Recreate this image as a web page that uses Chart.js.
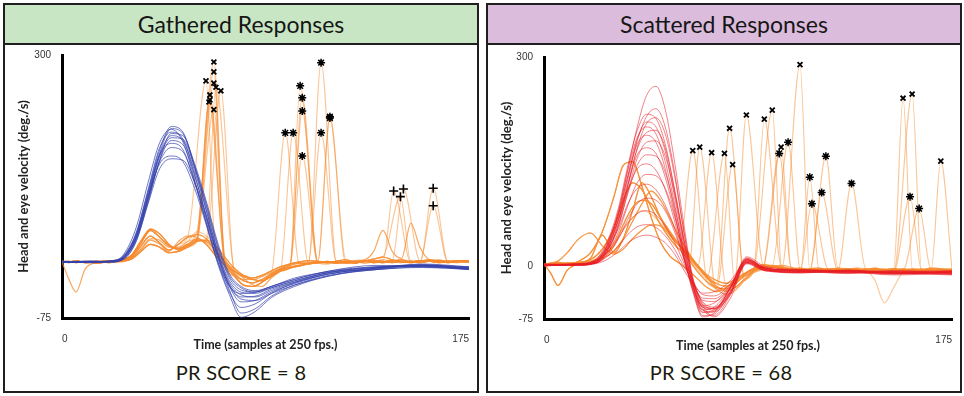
<!DOCTYPE html>
<html>
<head>
<meta charset="utf-8">
<script src="https://cdn.jsdelivr.net/npm/chart.js@4.4.1/dist/chart.umd.min.js"></script>
<style>
  body{margin:0;width:964px;height:396px;background:#fff;position:relative;overflow:hidden;font-family:Lato,"DejaVu Sans",sans-serif}
  .panel{position:absolute;top:3px;height:390px;box-sizing:border-box;border:2px solid #1f1f1f;background:#fff}
  .head{height:38px;border-bottom:2px solid #1f1f1f;text-align:center;font-size:23px;line-height:38px;color:#161616}
  .score{position:absolute;top:360px;height:24px;line-height:24px;text-align:center;font-size:20px;color:#1b1b0c;letter-spacing:.3px}
  canvas{position:absolute}
</style>
</head>
<body>
<div class="panel" style="left:3px;width:476px"><div class="head" style="background:#c8e6c4">Gathered Responses</div></div>
<div class="panel" style="left:486px;width:476px"><div class="head" style="background:#dbbcdc">Scattered Responses</div></div>
<canvas id="gathered" width="471" height="312" style="left:5px;top:46px"></canvas>
<canvas id="scattered" width="471" height="313" style="left:488px;top:46px"></canvas>
<div class="score" style="left:3px;width:476px">PR SCORE = 8</div>
<div class="score" style="left:640px;width:162px">PR SCORE = 68</div>
<script>
// ---- axes ----
const xTicks = [0, 175];
const gatheredYTicks = [-75, 300];
const scatteredYTicks = [-75, 0, 300];

// ---- head (blue) traces, gathered panel ----
const blueT = [0,12,22,27,32,37,42,47,52,57,62,67,72,77,83,90,100,115,135,155,175];
const blue1  = [5,4,6,14,45,105,165,198,190,140,80,20,-22,-38,-40,-32,-22,-10,-3,-1,-4];
const blue2  = [4,6,5,12,40,98,160,195,188,142,85,25,-18,-35,-38,-30,-20,-8,0,-2,-6];
const blue3  = [6,5,7,16,48,108,168,190,180,130,70,12,-28,-45,-44,-34,-24,-12,-4,2,-2];
const blue4  = [5,5,6,10,35,90,150,188,185,145,92,32,-12,-30,-36,-30,-18,-9,-2,0,-5];
const blue5  = [5,4,6,13,42,100,158,185,178,135,78,18,-25,-42,-45,-36,-24,-10,-6,-2,-3];
const blue6  = [4,5,5,11,38,92,150,178,172,128,72,15,-30,-52,-50,-38,-26,-12,-5,1,-4];
const blue7  = [5,6,6,15,46,104,158,174,165,118,62,5,-38,-60,-55,-40,-25,-12,-4,-1,-6];
const blue8  = [6,4,5,12,40,95,148,168,162,120,66,10,-35,-68,-62,-44,-28,-14,-6,0,-2];
const blue9  = [5,5,7,14,44,98,145,156,148,110,58,2,-42,-74,-66,-46,-30,-15,-6,-3,-5];
const blue10 = [4,5,6,10,36,88,138,152,150,118,70,14,-28,-48,-50,-40,-28,-15,-4,1,-3];
const blue11 = [5,6,5,18,55,118,175,194,176,122,60,5,-30,-40,-38,-30,-20,-8,-2,0,-4];
const blue12 = [5,5,6,12,40,96,155,182,180,140,88,28,-15,-32,-38,-32,-22,-10,-3,-1,-5];

// ---- head (red) traces, scattered panel ----
const redT = [0,14,22,27,32,36,40,44,48,52,56,60,64,68,73,80,87,95,110,130,150,175];
const red1  = [2,3,8,30,80,140,200,245,258,225,150,60,-20,-60,-70,-40,10,-5,-8,-6,-10,-8];
const red2  = [3,2,6,25,70,125,180,215,226,200,135,50,-25,-62,-65,-38,8,-3,-6,-8,-9,-7];
const red3  = [1,4,10,35,85,145,195,218,212,175,110,35,-30,-58,-60,-30,12,-2,-5,-7,-12,-9];
const red4  = [2,2,5,22,62,115,170,205,213,190,130,50,-18,-55,-72,-45,5,-6,-9,-5,-8,-11];
const red5  = [3,3,7,28,75,130,182,207,200,165,100,30,-28,-65,-62,-30,14,0,-4,-6,-10,-6];
const red6  = [2,4,9,32,80,138,185,200,190,150,90,20,-35,-70,-68,-35,8,-4,-7,-9,-7,-9];
const red7  = [1,3,6,24,66,118,168,192,195,170,110,40,-22,-50,-58,-36,6,-5,-8,-6,-9,-12];
const red8  = [3,2,8,30,76,130,175,188,178,140,80,15,-38,-72,-66,-32,10,-2,-6,-10,-8,-7];
const red9  = [2,3,5,20,58,108,155,178,180,158,105,38,-20,-52,-60,-40,4,-6,-5,-7,-11,-8];
const red10 = [4,3,7,26,68,118,160,170,162,128,75,15,-35,-66,-64,-30,12,-3,-7,-8,-6,-10];
const red11 = [2,2,6,22,60,105,145,160,158,135,85,25,-28,-58,-62,-38,6,-4,-9,-6,-10,-7];
const red12 = [3,4,8,28,68,110,140,147,138,110,65,12,-32,-62,-58,-30,10,-2,-5,-9,-8,-9];
const red13 = [1,3,5,18,50,88,120,132,130,112,72,20,-25,-55,-60,-36,5,-6,-8,-7,-9,-11];
const red14 = [2,3,7,24,55,90,112,118,110,88,55,10,-30,-56,-52,-28,9,-3,-6,-8,-7,-6];
const red15 = [3,2,5,16,40,68,90,98,95,80,50,12,-22,-48,-50,-30,7,-4,-7,-5,-9,-8];
const red16 = [2,4,6,20,42,62,76,80,74,58,35,5,-25,-45,-46,-26,10,-2,-6,-8,-6,-9];
const red17 = [3,3,5,14,30,46,57,60,56,44,25,0,-22,-40,-42,-24,6,-5,-8,-6,-10,-7];
const red18 = [2,2,4,10,22,34,42,45,42,34,18,-5,-25,-38,-36,-20,8,-3,-5,-7,-8,-10];

// ---- eye (orange) traces: background shapes + the saccade peak of each trace ----
const orangeT = [0,3,6,10,15,20,25,30,34,38,42,46,50,54,58,62,66,70,74,78,82,86,90,94,98,102,106,110,114,118,122,126,130,134,138,142,146,150,154,158,162,166,170,175];
const gatheredEyeA = [5,6,4,5,6,5,7,12,28,42,32,22,30,40,44,38,20,5,-12,-22,-25,-20,-12,-5,0,3,2,4,5,3,6,4,5,7,6,4,6,5,7,6,5,6,5,6];
const gatheredEyeB = [5,-20,-38,-5,4,6,5,10,24,38,36,26,26,34,48,42,26,8,-8,-18,-28,-30,-18,-8,-2,1,4,3,2,5,4,6,3,5,8,5,4,7,5,6,8,5,4,5];
const gatheredEyeC = [4,5,6,4,5,7,6,14,32,50,40,28,24,30,38,30,14,0,-15,-28,-30,-24,-14,-6,-3,0,3,5,4,6,5,3,6,4,5,7,5,4,6,8,6,4,6,7];
const gatheredEyeD = [6,5,5,6,4,5,8,11,22,36,30,20,34,42,40,32,18,4,-10,-20,-20,-16,-10,-4,2,4,5,6,5,4,5,7,8,20,50,20,10,60,25,8,6,7,6,5];
const gatheredEyeE = [5,4,6,5,3,6,8,15,35,52,45,30,22,28,36,34,22,6,-8,-16,-20,-22,-16,-8,-4,-1,2,4,6,4,3,5,7,5,4,6,8,5,4,6,7,5,6,5];
const gatheredEyeF = [6,5,7,4,6,4,6,9,20,30,26,18,20,26,34,36,28,12,-4,-14,-18,-14,-8,-2,2,5,7,6,4,6,8,5,6,9,12,8,6,5,7,6,4,5,7,6];
const scatteredEyeA = [3,5,2,4,6,10,25,55,95,120,110,85,60,40,25,10,-8,-22,-30,-32,-25,-12,-4,0,2,-2,-3,-5,-4,-6,-3,-5,-4,-6,-5,-3,-6,-4,-5,-7,-4,-5,-6,-5];
const scatteredEyeB = [4,-10,-27,-5,5,12,45,20,40,80,120,100,70,45,30,15,0,-15,-28,-35,-30,-18,-6,-2,0,-4,-6,-3,-5,-4,-7,-5,-3,-5,-6,-4,-5,-3,-6,-5,-4,-6,-5,-4];
const scatteredEyeC = [2,4,5,3,8,20,50,100,145,150,115,70,35,15,5,-5,-18,-30,-36,-30,-20,-10,-2,3,1,-2,-4,-6,-3,-5,-6,-4,-5,-3,-7,-5,-4,-6,-4,-5,-7,-6,-4,-5];
const scatteredEyeD = [3,3,4,6,5,8,18,35,55,70,80,75,62,48,30,12,-5,-18,-25,-28,-22,-12,-4,0,-1,-3,-2,-4,-5,-3,-4,-6,-5,-4,-6,-20,-52,-30,-8,-5,-6,-4,-5,-6];
const scatteredEyeE = [2,3,6,4,3,6,15,30,60,85,95,90,70,50,32,18,2,-12,-20,-24,-18,-10,-3,1,-1,-2,-5,-4,-6,-5,-4,-3,-6,-5,-4,-6,-5,-7,-5,-4,-6,-5,-7,-4];
const scatteredEyeF = [3,4,3,5,6,8,12,22,40,65,90,108,95,70,42,20,0,-14,-24,-28,-24,-14,-6,-2,1,0,-3,-2,-5,-3,-4,-2,-3,-5,-4,-2,-4,-3,-5,-3,-4,-2,-3,-4];
const scatteredEyeG = [2,5,8,20,40,48,30,18,25,40,52,60,58,45,30,14,-2,-16,-32,-40,-34,-20,-8,-3,0,2,-1,-4,-3,-2,-5,-6,-4,-2,-3,-5,-6,-4,-3,-5,-6,-3,-4,-5];

// peaks [time, velocity] and which background each trace uses
const gatheredCross = [[61.9,263],[65.3,290],[65.3,276],[65.3,260],[66.2,254],[63.6,243],[63.2,233],[63.6,236],[65.3,222],[68.3,249]];
const gatheredCrossBg = [0,1,2,4,5,0,4,2,5,3];
const gatheredStar = [[96,189],[99.4,189],[102.4,256],[103.3,239],[103.3,220],[103.3,156],[111.4,289],[111.4,189],[115.2,212],[115.2,210]];
const gatheredStarBg = [0,2,1,4,5,0,2,3,4,5];
const gatheredPlus = [[142.6,106],[146.8,109],[145.5,98],[159.6,110],[159.6,85]];
const gatheredPlusBg = [0,2,5,4,2];

const scatteredCross = [[63.8,166],[66.8,171],[71.9,163],[77.4,162],[79.6,198],[80.9,146],[86.8,217],[94.5,211],[97.9,224],[101.7,171],[109.8,289],[154,241],[157.9,247],[170.2,151]];
const scatteredCrossBg = [0,2,4,1,5,6,2,0,1,6,4,5,2,1];
const scatteredStar = [[100.9,162],[104.7,178],[114,128],[114.9,90],[119.1,106],[120.9,158],[131.9,119],[157,100],[160.9,83]];
const scatteredStarBg = [3,0,2,4,1,5,6,4,0];

// ---- building ----
const BLUE = 'rgba(52,66,172,0.7)', RED = 'rgba(232,30,36,0.55)', ORANGE = 'rgba(248,140,45,0.5)';

function pairs(xs, ys){ return xs.map((x,i)=>({x, y:ys[i]})); }
function peaked(bg, p){
  const pts = pairs(orangeT, bg).filter(q => Math.abs(q.x - p[0]) >= 4);
  pts.push({x:p[0], y:p[1]});
  return pts.sort((a,b)=>a.x-b.x);
}
function trace(data, color, w){
  return {data, borderColor:color, borderWidth:w, pointRadius:0, fill:false, cubicInterpolationMode:'monotone'};
}
function marks(list, style, r, w){
  return {data:list.map(p=>({x:p[0], y:p[1]})), showLine:false, pointStyle:style, pointRadius:r,
          borderColor:'#000', backgroundColor:'#000', borderWidth:w};
}

function makeChart(id, yTicks, yWidth, padTop, datasets){
  const tickFont = {family:'"Liberation Sans", Arial, sans-serif', size:10};
  return new Chart(document.getElementById(id), {
    type:'line',
    data:{datasets},
    options:{
      responsive:false, animation:false, devicePixelRatio:1,
      layout:{padding:{left:8, top:padTop, right:3, bottom:0}},
      plugins:{legend:{display:false}, tooltip:{enabled:false}},
      scales:{
        x:{type:'linear', min:0, max:175,
           afterBuildTicks:s=>{ s.ticks = xTicks.map(v=>({value:v})); },
           afterFit:s=>{ s.height = 40; },
           grid:{display:false}, border:{display:true, color:'#000', width:3},
           ticks:{align:'inner', maxRotation:0, padding:7, color:'#333', font:tickFont},
           title:{display:true, text:'Time (samples at 250 fps.)', color:'#222',
                  font:{family:'Lato', size:12.5, weight:'bold'}, padding:{top:2, bottom:6}}},
        y:{type:'linear', min:-75, max:300,
           afterBuildTicks:s=>{ s.ticks = yTicks.map(v=>({value:v})); },
           afterFit:s=>{ s.width = yWidth; },
           grid:{display:false}, border:{display:true, color:'#000', width:3},
           ticks:{padding:3, color:'#333', font:tickFont},
           title:{display:true, text:'Head and eye velocity (deg./s)', color:'#222',
                  font:{family:'Lato', size:13, weight:'bold'}, padding:{top:3, bottom:3}}}
      }
    }
  });
}

const gBg = [gatheredEyeA, gatheredEyeB, gatheredEyeC, gatheredEyeD, gatheredEyeE, gatheredEyeF];
const sBg = [scatteredEyeA, scatteredEyeB, scatteredEyeC, scatteredEyeD, scatteredEyeE, scatteredEyeF, scatteredEyeG];
const blues = [blue1,blue2,blue3,blue4,blue5,blue6,blue7,blue8,blue9,blue10,blue11,blue12];
const reds = [red1,red2,red3,red4,red5,red6,red7,red8,red9,red10,red11,red12,red13,red14,red15,red16,red17,red18];

const gSets = [
  marks(gatheredCross, 'crossRot', 3.5, 1.8),
  marks(gatheredStar, 'star', 4, 1.5),
  marks(gatheredStar, 'circle', 2.2, 0),
  marks(gatheredPlus, 'cross', 4.5, 1.6),
  ...blues.map(b => trace(pairs(blueT, b), BLUE, 1)),
  ...gatheredCross.map((p,i) => trace(peaked(gBg[gatheredCrossBg[i]], p), ORANGE, 1.1)),
  ...gatheredStar.map((p,i) => trace(peaked(gBg[gatheredStarBg[i]], p), ORANGE, 1.1)),
  ...gatheredPlus.map((p,i) => trace(peaked(gBg[gatheredPlusBg[i]], p), ORANGE, 1.1))
];
const sSets = [
  marks(scatteredCross, 'crossRot', 3.5, 1.8),
  marks(scatteredStar, 'star', 4, 1.5),
  marks(scatteredStar, 'circle', 2.2, 0),
  ...reds.map(r => trace(pairs(redT, r), RED, 1)),
  ...scatteredCross.map((p,i) => trace(peaked(sBg[scatteredCrossBg[i]], p), ORANGE, 1.1)),
  ...scatteredStar.map((p,i) => trace(peaked(sBg[scatteredStarBg[i]], p), ORANGE, 1.1))
];

makeChart('gathered', gatheredYTicks, 49, 9, gSets);
makeChart('scattered', scatteredYTicks, 48, 11, sSets);
</script>
</body>
</html>
